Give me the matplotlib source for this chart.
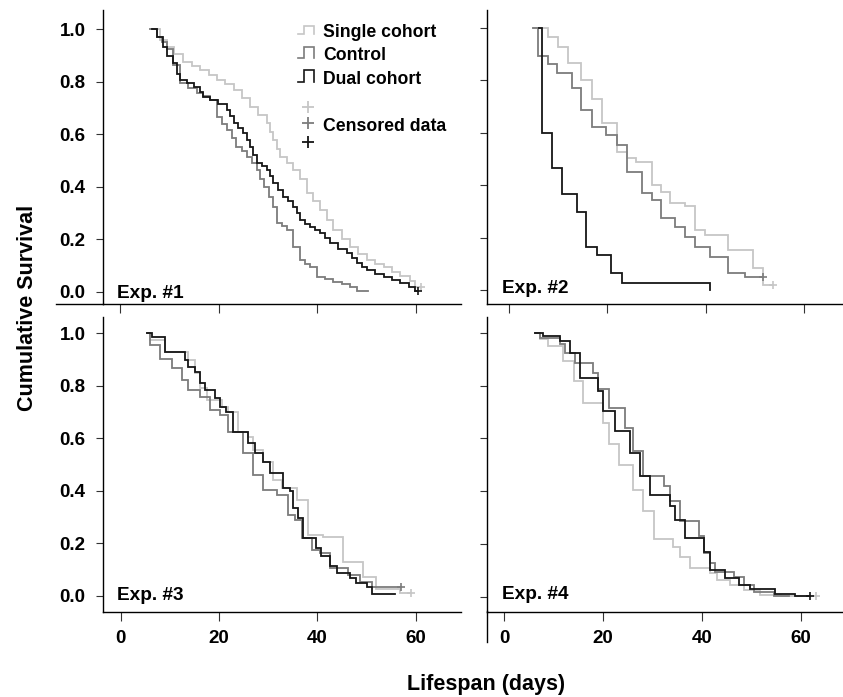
import matplotlib
matplotlib.use("Agg")
import matplotlib.pyplot as plt
from matplotlib.lines import Line2D
from matplotlib.transforms import Affine2D

# ---------------- data (days, cumulative survival) ----------------
exp1_single_t = [6.1, 8.0, 9.5, 11.0, 12.8, 14.5, 16.2, 18.0, 19.6, 21.3, 23.0, 24.7, 26.4, 28.0, 29.7,
                 30.4, 31.1, 31.8, 32.4, 33.8, 35.1, 36.5, 37.8, 39.2, 40.5, 41.9, 43.2, 44.9, 46.6, 48.3,
                 50.0, 51.7, 53.4, 55.1, 56.8, 58.8, 59.8, 61.0]
exp1_single_s = [1.0, 0.96, 0.934, 0.905, 0.877, 0.86, 0.845, 0.825, 0.807, 0.79, 0.769, 0.74, 0.706, 0.675, 0.642,
                 0.61, 0.579, 0.545, 0.515, 0.49, 0.464, 0.43, 0.376, 0.345, 0.312, 0.275, 0.236, 0.2, 0.17, 0.146,
                 0.122, 0.108, 0.096, 0.078, 0.06, 0.04, 0.02, 0.02]
exp1_single_cens_t = [61.0]
exp1_single_cens_s = [0.02]

exp1_control_t = [6.1, 7.4, 8.5, 9.5, 10.8, 12.2, 13.8, 15.5, 16.9, 18.2, 19.6, 20.6, 21.6, 22.6, 23.6,
                  24.7, 25.7, 26.7, 27.7, 28.4, 29.1, 30.1, 31.1, 31.8, 32.8, 33.8, 35.1, 36.5, 37.5, 38.5,
                  39.9, 41.5, 43.2, 44.9, 46.6, 48.0, 50.3]
exp1_control_s = [1.0, 0.97, 0.95, 0.926, 0.863, 0.794, 0.775, 0.756, 0.745, 0.731, 0.668, 0.64, 0.617, 0.585, 0.553,
                  0.535, 0.515, 0.49, 0.464, 0.43, 0.401, 0.36, 0.325, 0.261, 0.25, 0.236, 0.173, 0.122, 0.105, 0.096,
                  0.058, 0.048, 0.039, 0.03, 0.02, 0.003, 0.003]
exp1_control_cens_t = []
exp1_control_cens_s = []

exp1_dual_t = [6.5, 7.4, 8.8, 9.5, 10.8, 11.5, 12.2, 13.5, 14.9, 16.2, 16.9, 18.2, 19.9, 21.6, 22.3,
               23.0, 24.0, 25.0, 25.7, 26.4, 27.0, 27.7, 28.7, 29.7, 30.4, 31.1, 32.1, 33.1, 34.1, 35.1,
               35.8, 36.5, 37.5, 38.5, 39.5, 40.5, 41.5, 42.6, 44.2, 45.9, 47.0, 48.0, 49.0, 50.0, 51.7,
               53.4, 55.1, 56.8, 58.5, 59.8, 60.3]
exp1_dual_s = [1.0, 0.97, 0.934, 0.90, 0.87, 0.83, 0.807, 0.795, 0.782, 0.76, 0.744, 0.731, 0.715, 0.693, 0.67,
               0.642, 0.625, 0.604, 0.58, 0.553, 0.52, 0.49, 0.478, 0.464, 0.44, 0.414, 0.39, 0.363, 0.345, 0.325,
               0.30, 0.274, 0.26, 0.249, 0.235, 0.223, 0.205, 0.185, 0.165, 0.147, 0.13, 0.109, 0.095, 0.084, 0.07,
               0.058, 0.045, 0.033, 0.018, 0.004, 0.004]
exp1_dual_cens_t = [60.3]
exp1_dual_cens_s = [0.004]

exp2_single_t = [4.8, 7.9, 10.0, 12.0, 14.7, 16.8, 18.8, 21.9, 23.9, 25.9, 29.0, 31.0, 32.7, 35.8, 37.8,
                 39.9, 44.6, 49.7, 51.7, 53.8]
exp2_single_s = [1.0, 0.966, 0.928, 0.864, 0.800, 0.730, 0.635, 0.527, 0.502, 0.489, 0.400, 0.375, 0.330, 0.322, 0.229,
                 0.210, 0.152, 0.083, 0.019, 0.019]
exp2_single_cens_t = [53.8]
exp2_single_cens_s = [0.019]

exp2_control_t = [4.8, 5.9, 7.9, 9.8, 12.7, 14.7, 16.8, 19.8, 21.9, 23.9, 27.0, 29.0, 31.0, 33.7, 35.8,
                  37.8, 40.9, 44.6, 48.0, 51.7]
exp2_control_s = [1.0, 0.892, 0.861, 0.828, 0.769, 0.686, 0.623, 0.591, 0.553, 0.451, 0.371, 0.343, 0.273, 0.241, 0.201,
                  0.165, 0.127, 0.064, 0.048, 0.048]
exp2_control_cens_t = [51.7]
exp2_control_cens_s = [0.048]

exp2_dual_t = [6.1, 6.6, 8.8, 10.7, 13.8, 15.7, 17.8, 20.8, 22.9, 40.9]
exp2_dual_s = [1.0, 0.600, 0.464, 0.366, 0.299, 0.165, 0.133, 0.064, 0.028, 0.0]
exp2_dual_cens_t = []
exp2_dual_cens_s = []

exp3_single_t = [5.3, 6.0, 9.0, 13.7, 15.1, 16.1, 17.5, 20.5, 21.9, 23.9, 25.9, 27.0, 29.0, 31.0, 32.7,
                 35.8, 38.1, 41.2, 45.2, 49.3, 52.0, 56.7, 59.1]
exp3_single_s = [1.0, 0.975, 0.930, 0.898, 0.848, 0.790, 0.746, 0.721, 0.702, 0.626, 0.607, 0.556, 0.511, 0.442, 0.410,
                 0.365, 0.232, 0.226, 0.131, 0.074, 0.025, 0.010, 0.010]
exp3_single_cens_t = [59.1]
exp3_single_cens_s = [0.010]

exp3_control_t = [5.3, 6.0, 7.9, 10.4, 12.4, 13.7, 16.1, 18.1, 20.2, 21.9, 24.9, 27.0, 29.0, 31.7, 34.1,
                  35.4, 36.8, 38.8, 40.5, 42.5, 46.2, 48.6, 51.0, 57.1]
exp3_control_s = [1.0, 0.956, 0.901, 0.866, 0.822, 0.784, 0.759, 0.708, 0.689, 0.626, 0.543, 0.461, 0.404, 0.385, 0.308,
                  0.289, 0.220, 0.175, 0.162, 0.105, 0.080, 0.055, 0.033, 0.033]
exp3_control_cens_t = [57.1]
exp3_control_cens_s = [0.033]

exp3_dual_t = [5.3, 6.3, 9.0, 13.1, 13.7, 15.1, 16.1, 17.1, 19.2, 20.2, 21.5, 22.9, 25.9, 27.3, 29.0,
               30.3, 33.0, 34.4, 35.1, 36.1, 37.1, 39.8, 40.8, 42.5, 43.9, 46.6, 47.9, 50.0, 51.0, 55.7]
exp3_dual_s = [1.0, 0.987, 0.930, 0.898, 0.873, 0.854, 0.810, 0.784, 0.754, 0.721, 0.702, 0.626, 0.582, 0.543, 0.511,
               0.467, 0.410, 0.398, 0.334, 0.296, 0.221, 0.183, 0.151, 0.113, 0.086, 0.067, 0.048, 0.036, 0.006, 0.006]
exp3_dual_cens_t = []
exp3_dual_cens_s = []

exp4_single_t = [6.2, 7.2, 8.9, 11.9, 14.0, 16.0, 20.0, 21.1, 23.1, 26.1, 28.1, 30.2, 34.2, 35.6, 37.6,
                 41.6, 43.0, 45.7, 48.4, 51.8, 56.0, 63.0]
exp4_single_s = [1.0, 0.977, 0.949, 0.892, 0.816, 0.734, 0.658, 0.580, 0.500, 0.403, 0.325, 0.218, 0.190, 0.152, 0.110,
                 0.091, 0.063, 0.044, 0.025, 0.008, 0.002, 0.002]
exp4_single_cens_t = [63.0]
exp4_single_cens_s = [0.002]

exp4_control_t = [6.2, 7.2, 11.3, 12.3, 14.3, 18.0, 19.0, 21.1, 24.4, 26.1, 28.1, 32.2, 33.5, 35.6, 39.3,
                  40.3, 41.6, 42.7, 46.4, 48.4, 50.4, 54.5, 57.5]
exp4_control_s = [1.0, 0.981, 0.956, 0.924, 0.886, 0.848, 0.785, 0.715, 0.639, 0.551, 0.456, 0.418, 0.361, 0.285, 0.228,
                  0.165, 0.127, 0.095, 0.076, 0.044, 0.019, 0.004, 0.004]
exp4_control_cens_t = []
exp4_control_cens_s = []

exp4_dual_t = [6.2, 7.9, 11.3, 13.3, 15.3, 19.0, 20.0, 22.4, 25.4, 27.5, 29.5, 33.5, 34.6, 36.6, 40.3,
               41.6, 44.7, 47.4, 49.7, 54.8, 58.8, 61.9]
exp4_dual_s = [1.0, 0.987, 0.968, 0.922, 0.829, 0.778, 0.703, 0.627, 0.544, 0.456, 0.384, 0.342, 0.291, 0.222, 0.171,
               0.101, 0.070, 0.044, 0.028, 0.010, 0.002, 0.002]
exp4_dual_cens_t = [61.9]
exp4_dual_cens_s = [0.002]

panel_labels = ["Exp. #1", "Exp. #2", "Exp. #3", "Exp. #4"]
series_names = ["Single cohort", "Control", "Dual cohort"]
x_ticks = [0, 20, 40, 60]
y_ticks = [0.0, 0.2, 0.4, 0.6, 0.8, 1.0]

# ---------------- style ----------------
W, H = 843, 697
plt.rcParams['font.family'] = ['Liberation Sans', 'DejaVu Sans']
plt.rcParams['font.weight'] = 'bold'
colors = ['#c6c6c6', '#7c7c7c', '#161616']
LW = 1.3

fig = plt.figure(figsize=(W / 100, H / 100), dpi=100)
pix = Affine2D().scale(1.0 / W, -1.0 / H).translate(0, 1) + fig.transFigure


def add_axes(left, right, top, bottom):
    return fig.add_axes([left / W, 1 - bottom / H, (right - left) / W, (bottom - top) / H])


ax_tl = add_axes(103, 461, 10, 304)
ax_tr = add_axes(486.5, 845, 10, 304)
ax_bl = add_axes(103, 461, 317, 611.5)
ax_br = add_axes(486.5, 845, 317, 611.5)
axes = [ax_tl, ax_tr, ax_bl, ax_br]

xlims = [(-3.45, 69.1), (-4.64, 68.4), (-3.6, 69.2), (-3.6, 68.9)]
ylims = [(-0.0457, 1.0735), (-0.0534, 1.0675), (-0.059, 1.062), (-0.0562, 1.0596)]

data = [
    [(exp1_single_t, exp1_single_s, exp1_single_cens_t, exp1_single_cens_s),
     (exp1_control_t, exp1_control_s, exp1_control_cens_t, exp1_control_cens_s),
     (exp1_dual_t, exp1_dual_s, exp1_dual_cens_t, exp1_dual_cens_s)],
    [(exp2_single_t, exp2_single_s, exp2_single_cens_t, exp2_single_cens_s),
     (exp2_control_t, exp2_control_s, exp2_control_cens_t, exp2_control_cens_s),
     (exp2_dual_t, exp2_dual_s, exp2_dual_cens_t, exp2_dual_cens_s)],
    [(exp3_single_t, exp3_single_s, exp3_single_cens_t, exp3_single_cens_s),
     (exp3_control_t, exp3_control_s, exp3_control_cens_t, exp3_control_cens_s),
     (exp3_dual_t, exp3_dual_s, exp3_dual_cens_t, exp3_dual_cens_s)],
    [(exp4_single_t, exp4_single_s, exp4_single_cens_t, exp4_single_cens_s),
     (exp4_control_t, exp4_control_s, exp4_control_cens_t, exp4_control_cens_s),
     (exp4_dual_t, exp4_dual_s, exp4_dual_cens_t, exp4_dual_cens_s)],
]

for i, ax in enumerate(axes):
    for j, (t, s, ct, cs) in enumerate(data[i]):
        ax.step(t, s, where='post', color=colors[j], lw=LW, solid_joinstyle='miter')
        if ct:
            ax.plot(ct, cs, ls='none', marker='+', ms=6, mew=1.2, color=colors[j])
    ax.set_xlim(*xlims[i])
    ax.set_ylim(*ylims[i])
    ax.set_xticks(x_ticks)
    ax.set_yticks(y_ticks)
    ax.set_yticklabels(['%.1f' % v for v in y_ticks])
    for side in ['top', 'right']:
        ax.spines[side].set_visible(False)
    for side in ['left', 'bottom']:
        ax.spines[side].set_linewidth(1.0)
        ax.spines[side].set_color('black')
    ax.tick_params(axis='x', direction='out', length=6.5, width=0.8, color='#333333',
                   labelsize=13.5, pad=7)
    ax.tick_params(axis='y', direction='out', length=5.0, width=0.8, color='#333333',
                   labelsize=13.5, pad=7.5)
    if i in (0, 1):
        ax.tick_params(axis='x', labelbottom=False)
    if i in (1, 3):
        ax.tick_params(axis='y', labelleft=False)
    ax.patch.set_alpha(0)

# panel labels
for (x, y), lab in zip([(117, 298), (502, 293), (117, 600), (502, 599)], panel_labels):
    fig.text(x, y, lab, transform=pix, fontsize=13.7, fontweight='bold', ha='left', va='baseline')

# extra axis line segments seen in the original layout
fig.add_artist(Line2D([56, 103], [304, 304], transform=pix, color='black', lw=1.0))
fig.add_artist(Line2D([486.7, 486.7], [611, 642], transform=pix, color='black', lw=1.0))

# legend (drawn as in the original: step glyphs and cross markers)
icon_rows = [(25.7, 34.3), (46.7, 58.3), (70.0, 81.7)]
text_base = [36.7, 60.0, 84.0]
for j, ((top, bot), tb) in enumerate(zip(icon_rows, text_base)):
    fig.add_artist(Line2D([298.3, 304.3, 304.3, 314.3, 314.3], [bot, bot, top, top, bot],
                          transform=pix, color=colors[j], lw=1.2, solid_joinstyle='miter'))
    fig.text(323, tb, series_names[j], transform=pix, fontsize=12.7, fontweight='bold',
             ha='left', va='baseline')
for j, yy in enumerate([106.7, 123.3, 142.3]):
    fig.add_artist(Line2D([308.3], [yy], transform=pix, ls='none', marker='+', ms=8, mew=1.3,
                          color=colors[j]))
fig.text(323, 130.7, "Censored data", transform=pix, fontsize=12.7, fontweight='bold',
         ha='left', va='baseline')

# axis titles
fig.text(33.3, 308, "Cumulative Survival", transform=pix, fontsize=15.5, fontweight='bold',
         rotation=90, rotation_mode='anchor', ha='center', va='baseline')
fig.text(486, 690, "Lifespan (days)", transform=pix, fontsize=15.5, fontweight='bold',
         ha='center', va='baseline')

fig.savefig("out.png", dpi=100)
